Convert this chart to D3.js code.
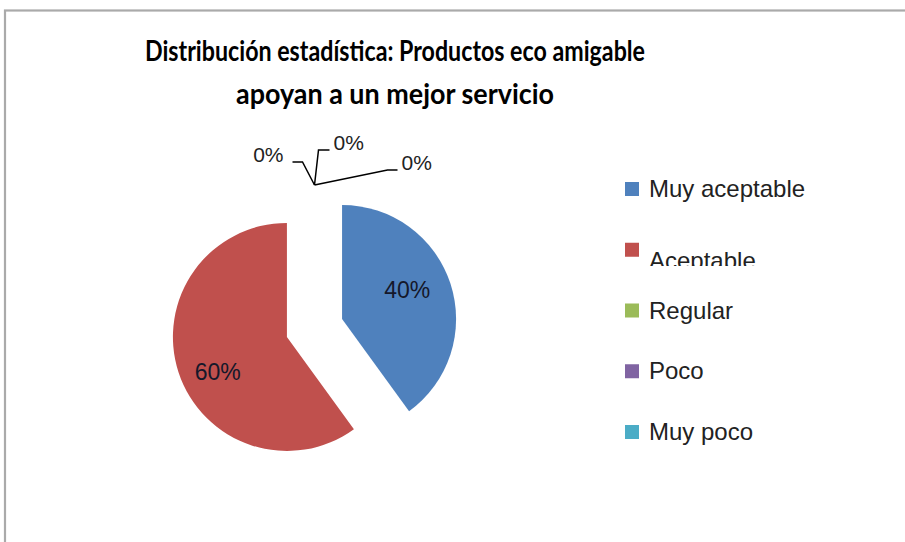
<!DOCTYPE html>
<html><head><meta charset="utf-8">
<script src="https://cdn.jsdelivr.net/npm/d3@7"></script>
<style>html,body{margin:0;padding:0;background:#fff;overflow:hidden}</style>
</head><body>
<svg id="chart" width="905" height="542"></svg>
<script>
const titleLines = ["Distribución estadística: Productos eco amigable", "apoyan a un mejor servicio"];
const categories = ["Muy aceptable", "Aceptable", "Regular", "Poco", "Muy poco"];
const values = [40, 60, 0, 0, 0];
const colors = ["#4f81bd", "#c0504d", "#9bbb59", "#8064a2", "#4bacc6"];

const svg = d3.select("#chart");
const W = 905, H = 542;

// frame
svg.append("rect").attr("x", 5).attr("y", 10.5).attr("width", 1000).attr("height", 1000)
  .attr("fill", "none").attr("stroke", "#aaaaaa").attr("stroke-width", 2.2);

const defs = svg.append("defs");
defs.append("clipPath").attr("id", "titleClip").append("rect")
  .attr("x", 0).attr("y", 0).attr("width", W).attr("height", 109);
defs.append("clipPath").attr("id", "legClip").append("rect")
  .attr("x", 0).attr("y", 0).attr("width", W).attr("height", 266);

// title
const tg = svg.append("g").attr("clip-path", "url(#titleClip)");
const titleWidths = [500, 318];
const titleBase = [61, 104];
titleLines.forEach((t, i) => {
  tg.append("text").attr("x", 395).attr("y", titleBase[i]).attr("text-anchor", "middle")
    .attr("font-family", "Lato, 'Open Sans', sans-serif").attr("font-weight", 700)
    .attr("font-size", 28).attr("fill", "#000")
    .attr("textLength", titleWidths[i]).attr("lengthAdjust", "spacingAndGlyphs")
    .text(t);
});

// pie
const cx = 314.5, cy = 328, r = 114, explode = 29;
const data = categories.map((c, i) => ({ cat: c, value: values[i], color: colors[i] }));
const pie = d3.pie().sort(null).value(d => d.value);
const arcs = pie(data);
const arc = d3.arc().innerRadius(0).outerRadius(r);
const g = svg.append("g").attr("transform", `translate(${cx},${cy})`);

function offset(d, dist) {
  const a = (d.startAngle + d.endAngle) / 2;
  return [Math.sin(a) * dist, -Math.cos(a) * dist];
}

const labelShift = [[-2, -7], [-2, 13]];
arcs.filter(d => d.value > 0).forEach((d, i) => {
  const [ox, oy] = offset(d, explode);
  g.append("path").attr("d", arc(d)).attr("fill", d.data.color)
    .attr("transform", `translate(${ox},${oy})`);
  const [lx, ly] = offset(d, explode + r * 0.62);
  g.append("text").attr("x", lx + labelShift[i][0]).attr("y", ly + labelShift[i][1]).attr("dy", "0.35em")
    .attr("text-anchor", "middle").attr("font-family", "'Liberation Sans', Arial, sans-serif")
    .attr("font-size", 23).attr("fill", "#15182a")
    .text(Math.round(d.value / d3.sum(values) * 100) + "%");
});

// zero-value labels with leader lines
const zero = arcs.filter(d => d.value === 0);
const leaderElbow = [[-12, -23], [4, -35], [73, -15]];
const leaderEnd = [[-22, -23], [15, -35], [83, -15]];
const leaderText = [[-31, -23, "end"], [19, -35, "start"], [87, -15, "start"]];
zero.forEach((d, i) => {
  const [ax, ay] = offset(d, explode + r);
  g.append("path")
    .attr("d", d3.line()([[ax, ay], [ax + leaderElbow[i][0], ay + leaderElbow[i][1]], [ax + leaderEnd[i][0], ay + leaderEnd[i][1]]]))
    .attr("fill", "none").attr("stroke", "#000").attr("stroke-width", 1.5);
  g.append("text").attr("x", ax + leaderText[i][0]).attr("y", ay + leaderText[i][1])
    .attr("text-anchor", leaderText[i][2])
    .attr("font-family", "'Liberation Sans', Arial, sans-serif").attr("font-size", 21).attr("fill", "#222")
    .text(Math.round(d.value / d3.sum(values) * 100) + "%");
});

// legend
const legY = d3.scalePoint().domain(categories).range([189, 432]);
const lg = svg.append("g");
categories.forEach((c, i) => {
  const y = legY(c);
  lg.append("rect").attr("x", 625).attr("y", y - 7).attr("width", 14).attr("height", 14).attr("fill", colors[i]);
  const t = lg.append("text").attr("x", 649).attr("y", i === 1 ? y + 19 : y + 8)
    .attr("font-family", "'Liberation Sans', Arial, sans-serif").attr("font-size", 24).attr("fill", "#222")
    .text(c);
  if (i === 1) t.attr("clip-path", "url(#legClip)");
});
</script>
</body></html>
